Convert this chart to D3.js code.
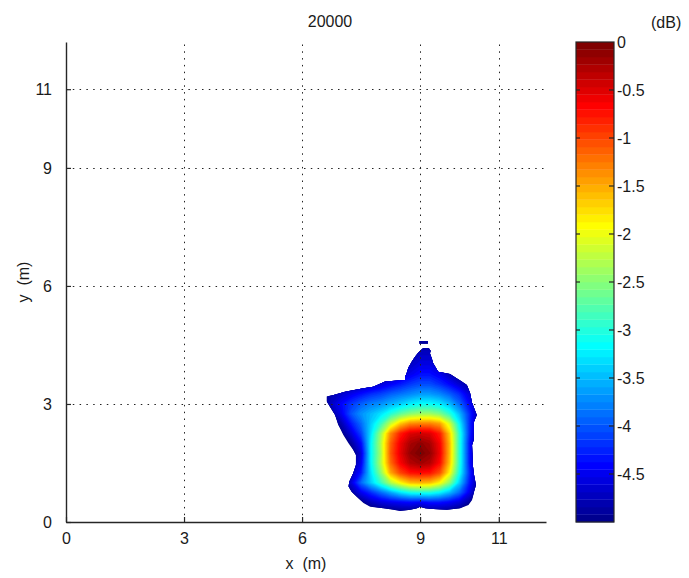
<!DOCTYPE html>
<html>
<head>
<meta charset="utf-8">
<script src="https://cdn.jsdelivr.net/npm/d3@7"></script>
<style>
  body { margin: 0; background: #fff; }
  svg { display: block; }
  text { font-family: "Liberation Sans", Arial, Helvetica, sans-serif; fill: #1a1a1a; }
</style>
</head>
<body>
<svg id="chart" width="689" height="578"></svg>
<script>
// ---- data ----------------------------------------------------------------
const title = "20000";
const xLabel = "x  (m)";
const yLabel = "y  (m)";
const unitLabel = "(dB)";
const xTicks = [0, 3, 6, 9, 11];
const yTicks = [0, 3, 6, 9, 11];
const colorTicks = [0, -0.5, -1, -1.5, -2, -2.5, -3, -3.5, -4, -4.5];
const colorLabels = ["0", "-0.5", "-1", "-1.5", "-2", "-2.5", "-3", "-3.5", "-4", "-4.5"];
const axisMax = 12.2;
const levelMin = -5;
const levelMax = 0;

// sample positions of the level grid (m)
const gridX = [6.5, 6.75, 7.0, 7.25, 7.5, 7.75, 8.0, 8.25, 8.5, 8.75, 9.0, 9.25, 9.5, 9.75, 10.0, 10.25, 10.5];
const gridY = [4.5, 4.25, 4.0, 3.75, 3.5, 3.25, 3.0, 2.75, 2.5, 2.25, 2.0, 1.75, 1.5, 1.25, 1.0, 0.75, 0.5, 0.25];

// relative level (dB), one row per gridY entry, one column per gridX entry
const levelRows = [
  [-5,-5,-5,-5,-5,-5,-5,-5,-5,-4.95,-4.85,-4.85,-5,-5,-5,-5,-5],
  [-5,-5,-5,-5,-5,-5,-5,-5,-5,-4.85,-4.7,-4.7,-4.9,-5,-5,-5,-5],
  [-5,-5,-5,-5,-5,-5,-5,-5,-4.9,-4.7,-4.55,-4.55,-4.75,-5,-5,-5,-5],
  [-5,-5,-5,-5,-5,-5,-4.95,-4.8,-4.65,-4.5,-4.35,-4.35,-4.5,-4.75,-4.95,-5,-5],
  [-5,-5,-5,-4.95,-4.85,-4.75,-4.6,-4.45,-4.3,-4.15,-4.05,-4.05,-4.2,-4.4,-4.65,-4.85,-5],
  [-5,-4.8,-4.65,-4.5,-4.35,-4.2,-4.1,-3.95,-3.85,-3.75,-3.65,-3.65,-3.75,-3.95,-4.2,-4.6,-5],
  [-5,-4.7,-4.4,-4.15,-3.95,-3.8,-3.7,-3.55,-3.4,-3.25,-3.15,-3.15,-3.25,-3.5,-3.9,-4.4,-4.9],
  [-5.2,-4.9,-4.5,-4.0,-3.7,-3.5,-3.3,-3.0,-2.7,-2.5,-2.4,-2.4,-2.55,-2.95,-3.5,-4.2,-4.9],
  [-5.4,-5.1,-4.8,-4.3,-3.9,-3.4,-2.9,-2.2,-1.65,-1.35,-1.3,-1.3,-1.45,-2.1,-3.2,-4.2,-5.0],
  [-5.5,-5.3,-5.0,-4.6,-4.1,-3.3,-2.4,-1.35,-0.8,-0.5,-0.45,-0.5,-0.8,-1.7,-3.0,-4.2,-5.1],
  [-5.5,-5.4,-5.2,-4.9,-4.4,-3.2,-2.3,-1.15,-0.6,-0.25,-0.12,-0.25,-0.65,-1.6,-3.0,-4.3,-5.2],
  [-5.5,-5.4,-5.3,-5.1,-4.6,-3.2,-2.35,-1.1,-0.55,-0.15,0,-0.15,-0.6,-1.6,-3.0,-4.3,-5.2],
  [-5.5,-5.4,-5.3,-5.0,-4.5,-3.2,-2.3,-1.2,-0.65,-0.3,-0.2,-0.3,-0.7,-1.65,-3.0,-4.3,-5.2],
  [-5.5,-5.4,-5.2,-4.8,-4.3,-3.3,-2.5,-1.5,-1.0,-0.75,-0.7,-0.75,-1.05,-1.9,-3.1,-4.2,-5.1],
  [-5.5,-5.4,-5.1,-4.6,-3.9,-3.4,-2.9,-2.3,-1.9,-1.6,-1.55,-1.6,-1.9,-2.5,-3.4,-4.3,-5.0],
  [-5.5,-5.4,-5.2,-4.9,-4.5,-4.2,-3.9,-3.6,-3.3,-3.1,-3.05,-3.05,-3.2,-3.5,-3.9,-4.5,-5.1],
  [-5.5,-5.5,-5.4,-5.2,-5.0,-4.75,-4.6,-4.5,-4.45,-4.4,-4.45,-4.35,-4.35,-4.45,-4.6,-4.9,-5.3],
  [-5.5,-5.5,-5.5,-5.4,-5.3,-5.2,-5.1,-5.1,-5.0,-5.0,-5.1,-5.0,-5.0,-5.0,-5.1,-5.3,-5.5]
];

// edge of the covered area (level above -5 dB), [x, y] in m
const coverageEdge = [
  [6.63,3.19],[6.80,3.23],[7.09,3.31],[7.56,3.40],[7.81,3.44],[8.11,3.57],[8.62,3.61],
  [8.62,3.69],[8.66,3.79],[8.70,3.92],[8.79,4.08],[8.87,4.20],[8.95,4.30],[9.02,4.37],
  [9.08,4.42],[9.22,4.42],[9.27,4.35],[9.25,4.29],[9.30,4.15],[9.33,4.04],[9.46,3.82],
  [9.76,3.76],[10.06,3.57],[10.19,3.48],[10.27,3.28],[10.32,3.03],[10.44,2.72],[10.37,2.55],
  [10.36,2.08],[10.32,1.96],[10.34,1.45],[10.37,1.20],[10.42,0.94],[10.37,0.77],[10.32,0.56],
  [10.23,0.43],[10.02,0.35],[9.68,0.31],[9.34,0.33],[9.13,0.35],[9.0,0.39],[8.92,0.35],
  [8.75,0.31],[8.49,0.28],[8.32,0.31],[8.07,0.35],[7.73,0.39],[7.56,0.48],[7.39,0.64],
  [7.26,0.77],[7.18,0.90],[7.20,1.02],[7.30,1.24],[7.37,1.45],[7.37,1.70],[7.30,1.83],
  [7.18,2.00],[7.05,2.21],[6.92,2.47],[6.84,2.72],[6.71,2.93],[6.63,3.06]
];
// small detached patch above the main area
const coverageIsland = [[8.98,4.53],[9.20,4.53],[9.20,4.60],[8.98,4.60]];

// ---- jet colormap (64 entries) -------------------------------------------
function jet64() {
  const n = 64, m = 16;
  const u = [];
  for (let i = 1; i <= m; i++) u.push(i / m);
  for (let i = 1; i < m; i++) u.push(1);
  for (let i = m; i >= 1; i--) u.push(i / m);
  const g0 = Math.ceil(m / 2);
  const r = new Array(n).fill(0), g = new Array(n).fill(0), b = new Array(n).fill(0);
  u.forEach((v, k) => {
    const gi = g0 + k, ri = gi + m, bi = gi - m;
    if (gi < n) g[gi] = v;
    if (ri < n) r[ri] = v;
    if (bi >= 0 && bi < n) b[bi] = v;
  });
  return d3.range(n).map(i => d3.rgb(r[i] * 255, g[i] * 255, b[i] * 255).formatHex());
}
const cmap = jet64();

// ---- layout --------------------------------------------------------------
const svg = d3.select("#chart");
const plot = { left: 66, top: 42, width: 480, height: 480 };
const cbar = { left: 576, top: 42, width: 38, height: 480 };

const x = d3.scaleLinear().domain([0, axisMax]).range([plot.left, plot.left + plot.width]);
const y = d3.scaleLinear().domain([0, axisMax]).range([plot.top + plot.height, plot.top]);

// ---- covered area: filled level bands -------------------------------------
const nx = gridX.length, ny = gridY.length;
const step = gridX[1] - gridX[0];
const values = levelRows.flat();
const nBands = cmap.length;
const thresholds = d3.range(1, nBands).map(k => levelMin + k * (levelMax - levelMin) / nBands);

const gridToPixels = d3.geoTransform({
  point(c, r) {
    this.stream.point(x(gridX[0] + (c - 0.5) * step), y(gridY[0] - (r - 0.5) * step));
  }
});
const bandPath = d3.geoPath(gridToPixels);
const edgeLine = d3.line().x(d => x(d[0])).y(d => y(d[1]));

const defs = svg.append("defs");
defs.append("clipPath").attr("id", "coverage")
  .selectAll("path").data([coverageEdge, coverageIsland]).join("path")
  .attr("d", d => edgeLine(d) + "Z");

const field = svg.append("g").attr("clip-path", "url(#coverage)");
field.append("rect")
  .attr("x", x(gridX[0]) - 20).attr("y", y(gridY[0]) - 20)
  .attr("width", x(gridX[nx - 1]) - x(gridX[0]) + 40)
  .attr("height", y(gridY[ny - 1]) - y(gridY[0]) + 40)
  .attr("fill", cmap[0]);

const bands = d3.contours().size([nx, ny]).thresholds(thresholds)(values);
field.selectAll("path.band").data(bands).join("path")
  .attr("class", "band")
  .attr("d", bandPath)
  .attr("fill", (d, i) => cmap[i + 1])
  .attr("stroke", (d, i) => cmap[i + 1])
  .attr("stroke-width", 0.3);

// ---- grid lines ------------------------------------------------------------
const grid = svg.append("g").attr("stroke", "#222").attr("stroke-width", 1)
  .attr("stroke-dasharray", "1.5,5.3");
grid.selectAll("line.gx").data(xTicks.filter(t => t > 0)).join("line")
  .attr("class", "gx")
  .attr("x1", d => Math.round(x(d)) + 0.5).attr("x2", d => Math.round(x(d)) + 0.5)
  .attr("y1", y(0)).attr("y2", plot.top);
grid.selectAll("line.gy").data(yTicks.filter(t => t > 0)).join("line")
  .attr("class", "gy")
  .attr("y1", d => Math.round(y(d)) + 0.5).attr("y2", d => Math.round(y(d)) + 0.5)
  .attr("x1", x(0)).attr("x2", plot.left + plot.width);

// ---- axes ------------------------------------------------------------------
const fontSize = 16;
const xAxis = svg.append("g")
  .attr("transform", `translate(0,${y(0)})`)
  .call(d3.axisBottom(x).tickValues(xTicks).tickFormat(d3.format("d"))
    .tickSizeInner(-5).tickSizeOuter(0).tickPadding(11));
const yAxis = svg.append("g")
  .attr("transform", `translate(${x(0)},0)`)
  .call(d3.axisLeft(y).tickValues(yTicks).tickFormat(d3.format("d"))
    .tickSizeInner(-5).tickSizeOuter(0).tickPadding(14));
[xAxis, yAxis].forEach(a => {
  a.select(".domain").attr("stroke", "#262626").attr("stroke-width", 1.4);
  a.selectAll(".tick line").attr("stroke", "#262626").attr("stroke-width", 1.2);
  a.selectAll(".tick text").attr("font-size", fontSize).attr("fill", "#1a1a1a")
    .style("font-family", '"Liberation Sans", Arial, sans-serif');
});
svg.selectAll("g").filter(function () { return this.getAttribute("font-family"); })
  .attr("font-family", null);

// ---- titles ----------------------------------------------------------------
svg.append("text").attr("x", 330).attr("y", 27)
  .attr("text-anchor", "middle").attr("font-size", fontSize).text(title);
svg.append("text").attr("x", x(axisMax / 2)).attr("y", 569)
  .attr("text-anchor", "middle").attr("font-size", fontSize)
  .style("white-space", "pre").text(xLabel);
svg.append("text")
  .attr("transform", `translate(29,${y(axisMax / 2)}) rotate(-90)`)
  .attr("text-anchor", "middle").attr("font-size", fontSize)
  .style("white-space", "pre").text(yLabel);

// ---- colour bar --------------------------------------------------------------
const c = d3.scaleLinear().domain([levelMin, levelMax]).range([cbar.top + cbar.height, cbar.top]);
const bandH = cbar.height / nBands;
svg.append("g").selectAll("rect").data(cmap).join("rect")
  .attr("x", cbar.left)
  .attr("y", (d, i) => c(levelMin + (i + 1) * (levelMax - levelMin) / nBands))
  .attr("width", cbar.width)
  .attr("height", bandH + 0.3)
  .attr("fill", d => d);
svg.append("rect")
  .attr("x", cbar.left).attr("y", cbar.top)
  .attr("width", cbar.width).attr("height", cbar.height)
  .attr("fill", "none").attr("stroke", "#262626").attr("stroke-width", 1.2);
const cbTick = svg.append("g").attr("stroke", "#262626").attr("stroke-width", 1.2);
cbTick.selectAll("line.l").data(colorTicks.slice(1)).join("line").attr("class", "l")
  .attr("x1", cbar.left).attr("x2", cbar.left + 4)
  .attr("y1", d => c(d)).attr("y2", d => c(d));
cbTick.selectAll("line.r").data(colorTicks.slice(1)).join("line").attr("class", "r")
  .attr("x1", cbar.left + cbar.width - 5).attr("x2", cbar.left + cbar.width)
  .attr("y1", d => c(d)).attr("y2", d => c(d));
svg.append("g").selectAll("text").data(colorTicks).join("text")
  .attr("x", cbar.left + cbar.width + 3)
  .attr("y", d => c(d))
  .attr("dy", "0.36em")
  .attr("font-size", fontSize)
  .text((d, i) => colorLabels[i]);
svg.append("text").attr("x", 651).attr("y", 28)
  .attr("font-size", fontSize).text(unitLabel);
</script>
</body>
</html>
